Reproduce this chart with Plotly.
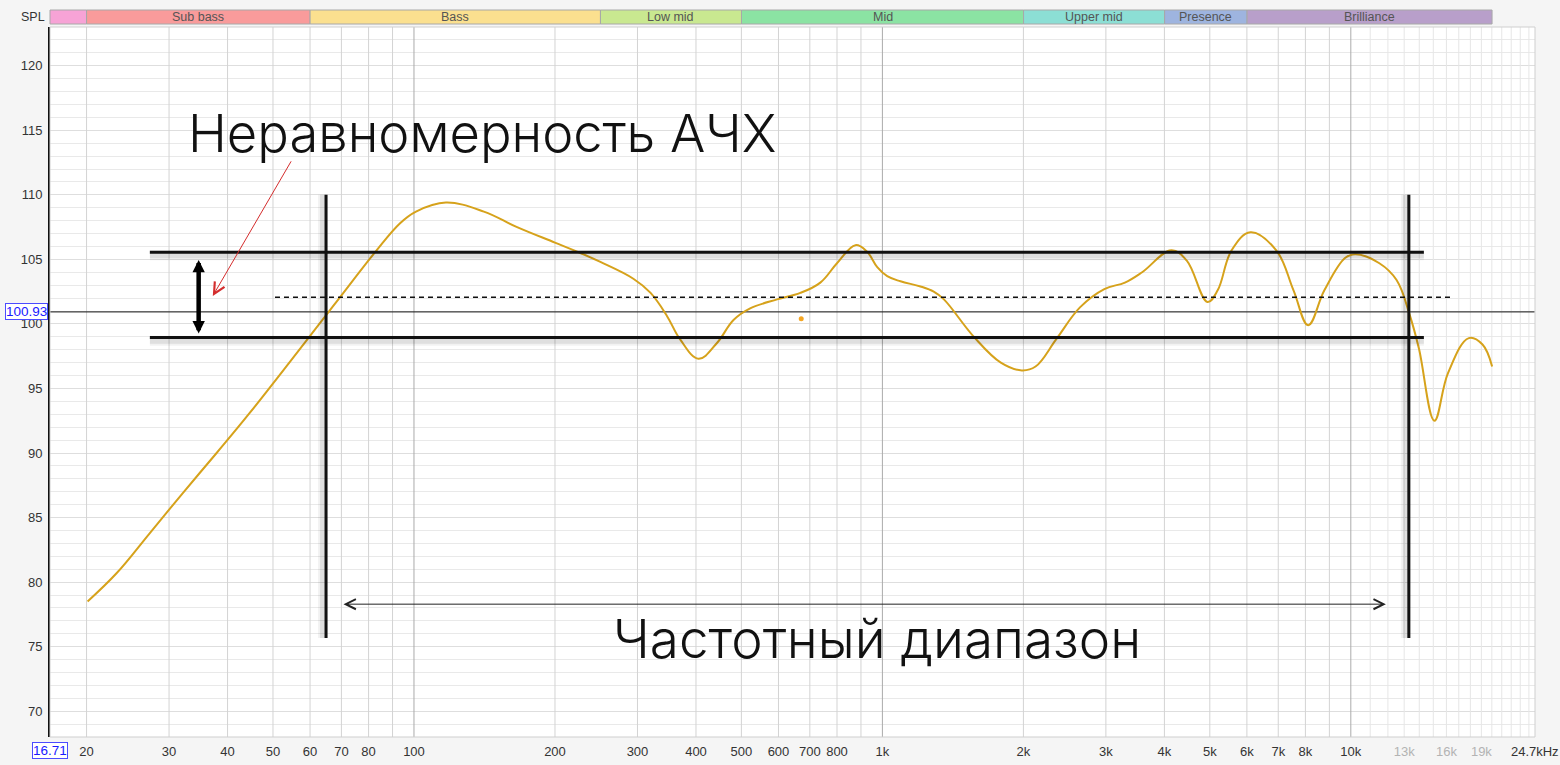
import math
import plotly.graph_objects as go

# ---------------- data ----------------
freq_hz = [20.1, 23.2, 27.3, 32.1, 37.9, 44.6, 65, 69.3, 82.8, 93.4, 101, 117,
           141, 166, 200, 223, 250, 294, 320, 347, 370, 405, 443, 481, 522, 596, 668, 737,
           800, 876, 927, 975, 1024, 1093, 1206, 1287, 1353, 1568, 1790, 1984, 2123, 2349,
           2644, 2977, 3294, 3585, 4140, 4465, 4943, 5197, 5565, 6106, 6932, 7545, 8110,
           8781, 9719, 10224, 11507, 12522, 13355, 13976, 15081, 16131, 17862, 19107, 20029]
spl_db = [78.5, 80.7, 83.8, 86.9, 90.0, 93.1, 100.7, 102.0, 105.6, 107.8,
          108.7, 109.4, 108.7, 107.5, 106.3, 105.6, 104.8, 103.5, 102.4, 100.6, 98.8, 97.3,
          98.5, 100.3, 101.2, 101.9, 102.4, 103.2, 104.7, 106.1, 105.6, 104.4, 103.7, 103.3,
          102.9, 102.5, 101.9, 99.0, 97.0, 96.4, 96.7, 98.8, 101.3, 102.7, 103.2, 104.0,
          105.7, 104.9, 101.7, 102.6, 105.7, 107.1, 105.7, 102.6, 99.9, 102.6, 105.1, 105.4,
          104.7, 103.4, 100.7, 98.1, 92.5, 96.2, 98.9, 98.4, 96.7]

x_tick_vals = [20, 30, 40, 50, 60, 70, 80, 100, 200, 300, 400, 500, 600, 700, 800, 1000,
               2000, 3000, 4000, 5000, 6000, 7000, 8000, 10000, 13000, 16000, 19000, 24700]
x_tick_text = ['20', '30', '40', '50', '60', '70', '80', '100', '200', '300', '400', '500',
               '600', '700', '800', '1k', '2k', '3k', '4k', '5k', '6k', '7k', '8k', '10k',
               '13k', '16k', '19k', '24.7kHz']
faded_ticks = ['13k', '16k', '19k']

band_names = ['', 'Sub bass', 'Bass', 'Low mid', 'Mid', 'Upper mid', 'Presence', 'Brilliance']
band_start_hz = [16.71, 20, 60, 250, 500, 2000, 4000, 6000]
band_end_hz = [20, 60, 250, 500, 2000, 4000, 6000, 20000]
band_colors = ['#F7A3D6', '#F99B9B', '#FBE08F', '#C9E890', '#8BE3A3', '#8CDFD5', '#9EB4DF', '#B89FCA']

grid_minor_hz = [20, 30, 40, 50, 60, 70, 80, 90, 200, 300, 400, 500, 600, 700, 800, 900,
                 2000, 3000, 4000, 5000, 6000, 7000, 8000, 9000]
grid_decade_hz = [100, 1000, 10000]
grid_high_hz = [11000, 12000, 13000, 14000, 15000, 16000, 17000, 18000, 19000, 20000,
                21000, 22000, 23000, 24000]

x_min_hz, x_max_hz = 16.71, 24700
y_min_db, y_max_db = 68, 123
cursor_db = 100.93
dot_hz, dot_db = 671, 100.4

band_upper_db, band_lower_db = 105.56, 98.94
band_lines_hz = [27.3, 14320]
range_edges_hz = [64.9, 13300]
range_edges_db = [75.66, 110.0]
mean_db = 102.07
mean_line_hz = [50.5, 16520]
ripple_arrow_hz = 34.7
ripple_arrow_db = [99.15, 104.96]
pointer_tail = (54.9, 112.71)
pointer_head = (37.2, 102.17)
span_arrow_hz = [70.2, 11880]
span_arrow_db = 78.29

title_ripple = 'Неравномерность АЧХ'
title_range = 'Частотный диапазон'

# ---------------- figure ----------------
LX0, LX1 = math.log10(x_min_hz), math.log10(x_max_hz)


def xfrac(f):
    return (math.log10(f) - LX0) / (LX1 - LX0)


fig = go.Figure()


def vlines(freqs, color, width=1):
    xs, ys = [], []
    for f in freqs:
        xs += [f, f, None]
        ys += [y_min_db, y_max_db, None]
    fig.add_trace(go.Scatter(x=xs, y=ys, mode='lines', line=dict(color=color, width=width),
                             hoverinfo='skip'))


vlines(grid_high_hz, '#e6e6e6')
vlines(grid_minor_hz, '#d3d3d3')
vlines(grid_decade_hz, '#ababab')

# cursor horizontal line
fig.add_trace(go.Scatter(x=[x_min_hz, x_max_hz], y=[cursor_db, cursor_db], mode='lines',
                         line=dict(color='#111', width=1), hoverinfo='skip'))

# response curve
fig.add_trace(go.Scatter(x=freq_hz, y=spl_db, mode='lines',
                         line=dict(color='#D6A21B', width=2, shape='spline', smoothing=1.1),
                         hoverinfo='skip'))
fig.add_trace(go.Scatter(x=[dot_hz], y=[dot_db], mode='markers',
                         marker=dict(color='#F5A623', size=5), hoverinfo='skip'))

# shadows of guide lines
sh = 10 ** (3 / 468)
for w, a in ((10, 0.05), (6, 0.08)):
    shadow = dict(color='rgba(0,0,0,%s)' % a, width=w)
    for lvl in (band_upper_db, band_lower_db):
        fig.add_trace(go.Scatter(x=band_lines_hz, y=[lvl - 0.25, lvl - 0.25], mode='lines',
                                 line=shadow, hoverinfo='skip'))
    for f in range_edges_hz:
        fig.add_trace(go.Scatter(x=[f / sh, f / sh], y=range_edges_db, mode='lines',
                                 line=shadow, hoverinfo='skip'))

# guide lines
for lvl in (band_upper_db, band_lower_db):
    fig.add_trace(go.Scatter(x=band_lines_hz, y=[lvl, lvl], mode='lines',
                             line=dict(color='#111', width=3), hoverinfo='skip'))
for f in range_edges_hz:
    fig.add_trace(go.Scatter(x=[f, f], y=range_edges_db, mode='lines',
                             line=dict(color='#111', width=3), hoverinfo='skip'))
fig.add_trace(go.Scatter(x=mean_line_hz, y=[mean_db, mean_db], mode='lines',
                         line=dict(color='#111', width=1.5, dash='5px,4px'), hoverinfo='skip'))

shapes = []
annotations = []

# frequency bands on top
BY0 = 1 + 3 / 710
BY1 = 1 + 17 / 710
for name, a, b, c in zip(band_names, band_start_hz, band_end_hz, band_colors):
    shapes.append(dict(type='rect', xref='paper', yref='paper', x0=xfrac(a), x1=xfrac(b),
                       y0=BY0, y1=BY1, fillcolor=c, line=dict(color='#a8a8a8', width=1),
                       layer='above'))
    if name:
        annotations.append(dict(xref='paper', yref='paper', x=(xfrac(a) + xfrac(b)) / 2,
                                y=(BY0 + BY1) / 2, text=name, showarrow=False,
                                font=dict(size=12.5, color='#555', family='Liberation Sans'),
                                xanchor='center', yanchor='middle'))
annotations.append(dict(xref='paper', yref='paper', x=0, y=(BY0 + BY1) / 2, text='SPL',
                        showarrow=False, xanchor='right', yanchor='middle', xshift=-3,
                        font=dict(size=12.5, color='#333', family='Liberation Sans')))

# plot border
shapes.append(dict(type='rect', xref='paper', yref='paper', x0=0, x1=1, y0=0, y1=1,
                   line=dict(color='#cfcfcf', width=1), layer='above'))

# cursor value boxes
annotations.append(dict(xref='paper', yref='y', x=0, y=cursor_db, text='100.93',
                        showarrow=False, xanchor='right', yanchor='middle', xshift=-2,
                        font=dict(size=13.5, color='#1a1aff', family='Liberation Sans'),
                        bgcolor='white', bordercolor='#4b4bff', borderwidth=1, borderpad=0))
annotations.append(dict(xref='x', yref='paper', x=LX0, y=0, text='16.71',
                        showarrow=False, xanchor='center', yanchor='top', yshift=-5,
                        font=dict(size=13.5, color='#1a1aff', family='Liberation Sans'),
                        bgcolor='white', bordercolor='#4b4bff', borderwidth=1, borderpad=0))

# ripple double arrow
annotations.append(dict(xref='x', yref='y', axref='x', ayref='y',
                        x=math.log10(ripple_arrow_hz), y=ripple_arrow_db[1],
                        ax=math.log10(ripple_arrow_hz), ay=ripple_arrow_db[0],
                        text='', showarrow=True, arrowhead=2, startarrowhead=2,
                        arrowside='end+start', arrowsize=0.55, startarrowsize=0.55,
                        arrowwidth=4.5, arrowcolor='#000', standoff=0, startstandoff=0))
# red pointer arrow
annotations.append(dict(xref='x', yref='y', axref='x', ayref='y',
                        x=math.log10(pointer_head[0]), y=pointer_head[1],
                        ax=math.log10(pointer_tail[0]), ay=pointer_tail[1],
                        text='', showarrow=True, arrowhead=5, arrowsize=2.2,
                        arrowwidth=1, arrowcolor='#d42d2d'))
# frequency-span arrow
annotations.append(dict(xref='x', yref='y', axref='x', ayref='y',
                        x=math.log10(span_arrow_hz[1]), y=span_arrow_db,
                        ax=math.log10(span_arrow_hz[0]), ay=span_arrow_db,
                        text='', showarrow=True, arrowhead=5, startarrowhead=5,
                        arrowside='end+start', arrowsize=2, startarrowsize=2,
                        arrowwidth=1, arrowcolor='#222'))

# big texts
annotations.append(dict(xref='x', yref='y', x=math.log10(32.6), y=114.8, text=title_ripple,
                        showarrow=False, xanchor='left', yanchor='middle',
                        font=dict(size=52.5, color='#111', family='Inter', weight=300)))
annotations.append(dict(xref='x', yref='y', x=math.log10(264), y=75.6, text=title_range,
                        showarrow=False, xanchor='left', yanchor='middle',
                        font=dict(size=53, color='#111', family='Inter', weight=300)))

tick_text = [('<span style="color:#b3b3b3">%s</span>' % t) if t in faded_ticks else t
             for t in x_tick_text]

fig.update_layout(
    width=1560, height=765,
    margin=dict(l=50, r=25, t=27, b=28),
    paper_bgcolor='#f5f5f5', plot_bgcolor='white',
    showlegend=False,
    shapes=shapes, annotations=annotations,
    xaxis=dict(type='log', range=[LX0, LX1 + 0.0005], showgrid=False, zeroline=False,
               tickvals=x_tick_vals, ticktext=tick_text, ticks='', showline=False,
               automargin=False, ticklabelstandoff=5,
               tickfont=dict(size=13, color='#333', family='Liberation Sans')),
    yaxis=dict(range=[y_min_db, y_max_db], tick0=70, dtick=5, showgrid=True,
               gridcolor='#dedede', gridwidth=1, zeroline=False,
               minor=dict(dtick=1, tick0=70, showgrid=True, gridcolor='#e9e9e9', gridwidth=1),
               showline=True, linecolor='#111', linewidth=2, ticks='', automargin=False,
               ticklabelstandoff=3,
               tickfont=dict(size=13, color='#333', family='Liberation Sans')),
)

fig.write_html('out.html', config={'displayModeBar': False},
               post_script="document.body.style.margin='0';")
